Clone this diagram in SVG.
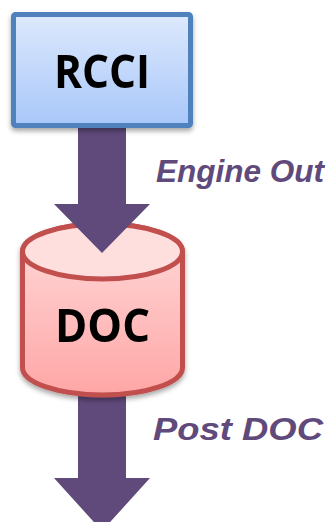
<svg xmlns="http://www.w3.org/2000/svg" width="330" height="522" viewBox="0 0 330 522">
<defs>
<linearGradient id="gBlue" x1="0" y1="0" x2="0" y2="1">
<stop offset="0" stop-color="#dde9fd"/>
<stop offset="1" stop-color="#a8c7f9"/>
</linearGradient>
<linearGradient id="gRed" x1="0" y1="0" x2="0" y2="1">
<stop offset="0" stop-color="#ffdada"/>
<stop offset="1" stop-color="#ffa6a6"/>
</linearGradient>
<filter id="sh" x="-20%" y="-20%" width="140%" height="150%">
<feDropShadow dx="0" dy="3" stdDeviation="2.5" flood-color="#000" flood-opacity="0.35"/>
</filter>
<style>
.arrow{fill:#604a7b}
.lbl{font-family:"Liberation Sans",Arial,sans-serif;font-weight:bold;font-style:italic;font-size:31.5px;fill:#604a7b}
.nt{font-family:"Open Sans","Liberation Sans",sans-serif;font-weight:bold;font-size:46px;fill:#000}
</style>
</defs>
<g id="connectors">
<polygon id="arrow2" class="arrow" points="78,390 126,390 126,478 150,478 102,531 54,478 78,478"/>
</g>
<g id="doc" filter="url(#sh)">
<path d="M22.5,251.5 L22.5,367.5 A80,27.5 0 0 0 182.5,367.5 L182.5,251.5 A80,27.5 0 0 0 22.5,251.5 Z" fill="url(#gRed)" stroke="#c0504d" stroke-width="5"/>
<ellipse cx="102.5" cy="251.5" rx="80" ry="27.5" fill="#ffdede" stroke="#c0504d" stroke-width="5"/>
<text class="nt" x="102.5" y="342" text-anchor="middle" textLength="95" lengthAdjust="spacingAndGlyphs">DOC</text>
</g>
<g id="connectors-top">
<polygon id="arrow1" class="arrow" points="78,125 126,125 126,204 150,204 102,253 54,204 78,204"/>
</g>
<g id="rcci" filter="url(#sh)">
<rect x="13.5" y="14.5" width="177" height="111" rx="2" fill="url(#gBlue)" stroke="#4f81bd" stroke-width="5"/>
<text class="nt" x="102" y="88" text-anchor="middle" textLength="96" lengthAdjust="spacingAndGlyphs">RCCI</text>
</g>
<g id="labels">
<text class="lbl" x="156" y="182" textLength="168" lengthAdjust="spacingAndGlyphs">Engine Out</text>
<text class="lbl" x="153" y="440" textLength="170" lengthAdjust="spacingAndGlyphs">Post DOC</text>
</g>
</svg>
